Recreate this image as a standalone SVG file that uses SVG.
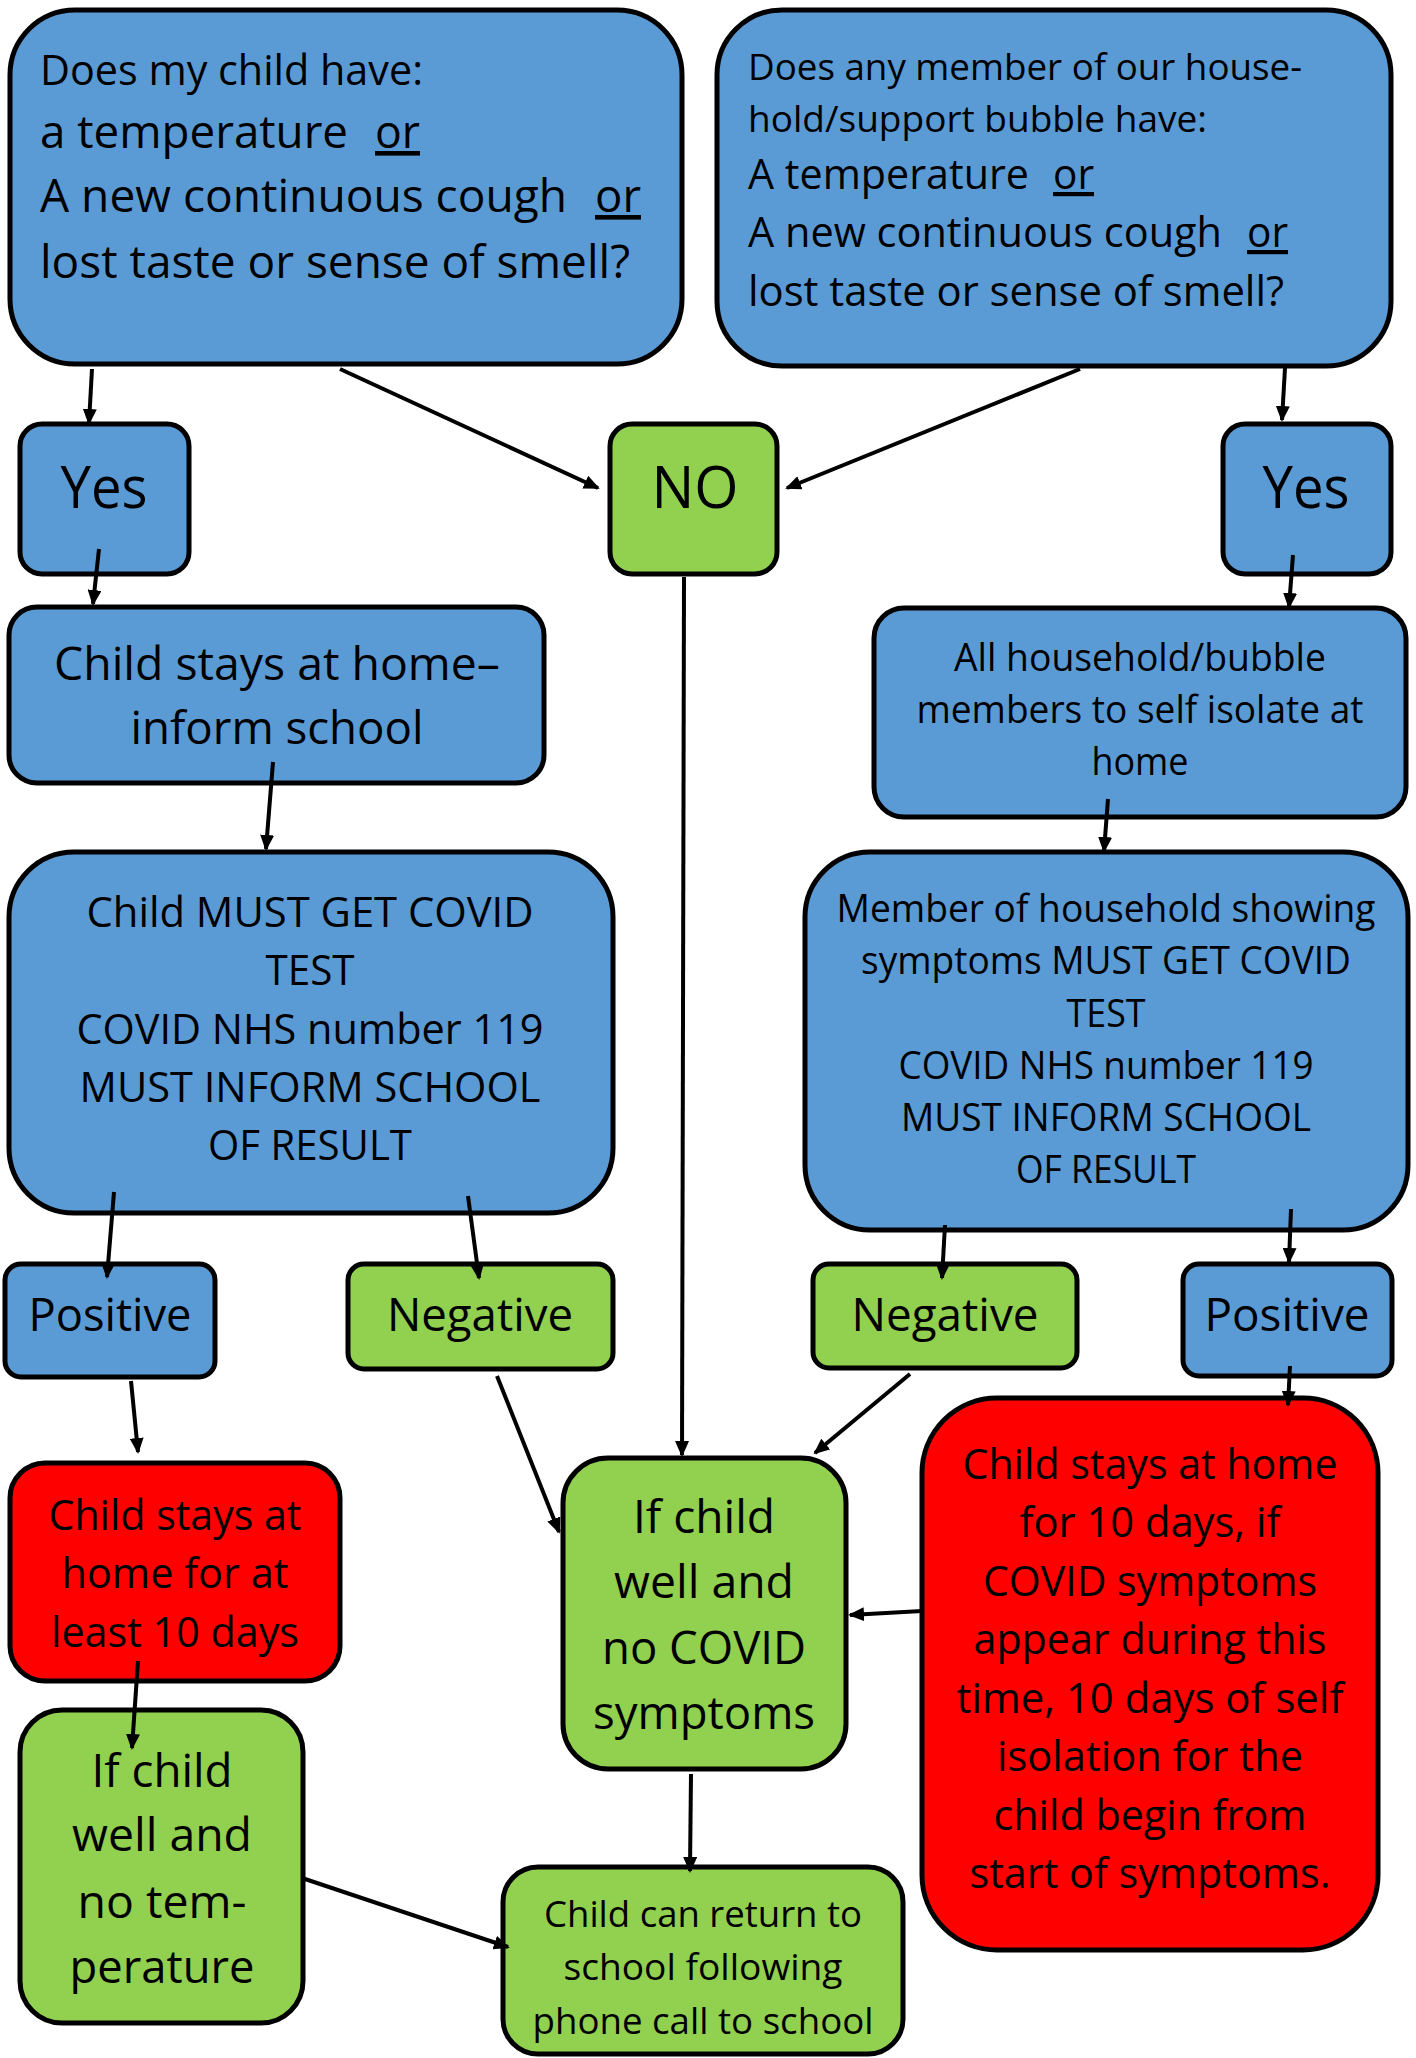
<svg xmlns="http://www.w3.org/2000/svg" width="1416" height="2058" viewBox="0 0 1416 2058">
<style>
.box{stroke:#000;stroke-width:5}
.blue{fill:#5B9BD5}
.green{fill:#92D050}
.red{fill:#FF0000}
text{font-family:"Open Sans","Liberation Sans",sans-serif;fill:#000}
.c{text-anchor:middle}
.u{text-decoration:underline}
.conn line{stroke:#000;stroke-width:4;marker-end:url(#arr)}
</style>
<defs>
<marker id="arr" markerUnits="userSpaceOnUse" markerWidth="16" markerHeight="14" refX="14" refY="7" orient="auto">
<path d="M0,0 L16,7 L0,14 z" fill="#000"/>
</marker>
</defs>
<rect width="1416" height="2058" fill="#fff"/>

<g id="q1">
<rect class="box blue" x="10" y="10" width="672" height="354" rx="65"/>
<text x="40" y="85" font-size="41.5" textLength="383" lengthAdjust="spacingAndGlyphs">Does my child have:</text>
<text x="40" y="148" font-size="46" textLength="308" lengthAdjust="spacingAndGlyphs">a temperature</text>
<text class="u" x="375" y="148" font-size="46" textLength="45" lengthAdjust="spacingAndGlyphs">or</text>
<text x="40" y="212" font-size="46" textLength="527" lengthAdjust="spacingAndGlyphs">A new continuous cough</text>
<text class="u" x="595" y="212" font-size="46" textLength="46" lengthAdjust="spacingAndGlyphs">or</text>
<text x="40" y="278" font-size="46" textLength="590" lengthAdjust="spacingAndGlyphs">lost taste or sense of smell?</text>
</g>

<g id="q2">
<rect class="box blue" x="717" y="10" width="674" height="356" rx="65"/>
<text x="748" y="80" font-size="37" textLength="554" lengthAdjust="spacingAndGlyphs">Does any member of our house-</text>
<text x="748" y="132" font-size="37" textLength="459" lengthAdjust="spacingAndGlyphs">hold/support bubble have:</text>
<text x="748" y="189" font-size="42" textLength="281" lengthAdjust="spacingAndGlyphs">A temperature</text>
<text class="u" x="1053" y="189" font-size="42" textLength="41" lengthAdjust="spacingAndGlyphs">or</text>
<text x="748" y="247" font-size="42" textLength="474" lengthAdjust="spacingAndGlyphs">A new continuous cough</text>
<text class="u" x="1247" y="247" font-size="42" textLength="41" lengthAdjust="spacingAndGlyphs">or</text>
<text x="748" y="306" font-size="42" textLength="536" lengthAdjust="spacingAndGlyphs">lost taste or sense of smell?</text>
</g>

<g id="yes1">
<rect class="box blue" x="20" y="424" width="169" height="150" rx="22"/>
<text class="c" x="104" y="508" font-size="58" textLength="87" lengthAdjust="spacingAndGlyphs">Yes</text>
</g>

<g id="no">
<rect class="box green" x="610" y="424" width="167" height="150" rx="22"/>
<text class="c" x="695" y="508" font-size="58" textLength="87" lengthAdjust="spacingAndGlyphs">NO</text>
</g>

<g id="yes2">
<rect class="box blue" x="1223" y="424" width="168" height="150" rx="22"/>
<text class="c" x="1306" y="508" font-size="58" textLength="87" lengthAdjust="spacingAndGlyphs">Yes</text>
</g>

<g id="stayHome">
<rect class="box blue" x="9" y="607" width="535" height="176" rx="28"/>
<text class="c" x="277" y="680" font-size="46" textLength="446" lengthAdjust="spacingAndGlyphs">Child stays at home–</text>
<text class="c" x="277" y="744" font-size="46" textLength="293" lengthAdjust="spacingAndGlyphs">inform school</text>
</g>

<g id="testChild">
<rect class="box blue" x="9" y="852" width="604" height="361" rx="65"/>
<text class="c" x="310" y="927" font-size="42" textLength="447" lengthAdjust="spacingAndGlyphs">Child MUST GET COVID</text>
<text class="c" x="310" y="985" font-size="42" textLength="89" lengthAdjust="spacingAndGlyphs">TEST</text>
<text class="c" x="310" y="1044" font-size="42" textLength="467" lengthAdjust="spacingAndGlyphs">COVID NHS number 119</text>
<text class="c" x="310" y="1102" font-size="42" textLength="461" lengthAdjust="spacingAndGlyphs">MUST INFORM SCHOOL</text>
<text class="c" x="310" y="1160" font-size="42" textLength="204" lengthAdjust="spacingAndGlyphs">OF RESULT</text>
</g>

<g id="isolate">
<rect class="box blue" x="874" y="608" width="532" height="209" rx="30"/>
<text class="c" x="1140" y="671" font-size="37.5" textLength="372" lengthAdjust="spacingAndGlyphs">All household/bubble</text>
<text class="c" x="1140" y="723" font-size="37.5" textLength="447" lengthAdjust="spacingAndGlyphs">members to self isolate at</text>
<text class="c" x="1140" y="775" font-size="37.5" textLength="97" lengthAdjust="spacingAndGlyphs">home</text>
</g>

<g id="testMember">
<rect class="box blue" x="805" y="852" width="603" height="378" rx="65"/>
<text class="c" x="1106" y="922" font-size="37.5" textLength="539" lengthAdjust="spacingAndGlyphs">Member of household showing</text>
<text class="c" x="1106" y="974" font-size="37.5" textLength="490" lengthAdjust="spacingAndGlyphs">symptoms MUST GET COVID</text>
<text class="c" x="1106" y="1027" font-size="37.5" textLength="79" lengthAdjust="spacingAndGlyphs">TEST</text>
<text class="c" x="1106" y="1079" font-size="37.5" textLength="415" lengthAdjust="spacingAndGlyphs">COVID NHS number 119</text>
<text class="c" x="1106" y="1131" font-size="37.5" textLength="410" lengthAdjust="spacingAndGlyphs">MUST INFORM SCHOOL</text>
<text class="c" x="1106" y="1183" font-size="37.5" textLength="180" lengthAdjust="spacingAndGlyphs">OF RESULT</text>
</g>

<g id="pos1">
<rect class="box blue" x="5" y="1264" width="210" height="113" rx="16"/>
<text class="c" x="110" y="1331" font-size="45" textLength="163" lengthAdjust="spacingAndGlyphs">Positive</text>
</g>

<g id="neg1">
<rect class="box green" x="348" y="1264" width="265" height="105" rx="16"/>
<text class="c" x="480" y="1331" font-size="45" textLength="186" lengthAdjust="spacingAndGlyphs">Negative</text>
</g>

<g id="neg2">
<rect class="box green" x="813" y="1264" width="264" height="104" rx="16"/>
<text class="c" x="945" y="1331" font-size="45" textLength="187" lengthAdjust="spacingAndGlyphs">Negative</text>
</g>

<g id="pos2">
<rect class="box blue" x="1183" y="1264" width="209" height="112" rx="16"/>
<text class="c" x="1287" y="1331" font-size="45" textLength="165" lengthAdjust="spacingAndGlyphs">Positive</text>
</g>

<g id="red1">
<rect class="box red" x="10" y="1463" width="330" height="218" rx="35"/>
<text class="c" x="175" y="1530" font-size="41.5" textLength="253" lengthAdjust="spacingAndGlyphs">Child stays at</text>
<text class="c" x="175" y="1588" font-size="41.5" textLength="227" lengthAdjust="spacingAndGlyphs">home for at</text>
<text class="c" x="175" y="1647" font-size="41.5" textLength="248" lengthAdjust="spacingAndGlyphs">least 10 days</text>
</g>

<g id="wellTemp">
<rect class="box green" x="20" y="1710" width="283" height="313" rx="42"/>
<text class="c" x="162" y="1787" font-size="46" textLength="141" lengthAdjust="spacingAndGlyphs">If child</text>
<text class="c" x="162" y="1851" font-size="46" textLength="180" lengthAdjust="spacingAndGlyphs">well and</text>
<text class="c" x="162" y="1918" font-size="46" textLength="169" lengthAdjust="spacingAndGlyphs">no tem-</text>
<text class="c" x="162" y="1983" font-size="46" textLength="185" lengthAdjust="spacingAndGlyphs">perature</text>
</g>

<g id="wellCovid">
<rect class="box green" x="563" y="1458" width="283" height="311" rx="45"/>
<text class="c" x="704" y="1533" font-size="46" textLength="142" lengthAdjust="spacingAndGlyphs">If child</text>
<text class="c" x="704" y="1598" font-size="46" textLength="180" lengthAdjust="spacingAndGlyphs">well and</text>
<text class="c" x="704" y="1664" font-size="46" textLength="204" lengthAdjust="spacingAndGlyphs">no COVID</text>
<text class="c" x="704" y="1729" font-size="46" textLength="222" lengthAdjust="spacingAndGlyphs">symptoms</text>
</g>

<g id="returnSchool">
<rect class="box green" x="503" y="1867" width="400" height="187" rx="35"/>
<text class="c" x="703" y="1927" font-size="37" textLength="318" lengthAdjust="spacingAndGlyphs">Child can return to</text>
<text class="c" x="703" y="1980" font-size="37" textLength="279" lengthAdjust="spacingAndGlyphs">school following</text>
<text class="c" x="703" y="2034" font-size="37" textLength="341" lengthAdjust="spacingAndGlyphs">phone call to school</text>
</g>

<g id="red2">
<rect class="box red" x="922" y="1398" width="456" height="552" rx="75"/>
<text class="c" x="1150" y="1479" font-size="41.5" textLength="375" lengthAdjust="spacingAndGlyphs">Child stays at home</text>
<text class="c" x="1150" y="1537" font-size="41.5" textLength="261" lengthAdjust="spacingAndGlyphs">for 10 days, if</text>
<text class="c" x="1150" y="1596" font-size="41.5" textLength="334" lengthAdjust="spacingAndGlyphs">COVID symptoms</text>
<text class="c" x="1150" y="1654" font-size="41.5" textLength="353" lengthAdjust="spacingAndGlyphs">appear during this</text>
<text class="c" x="1150" y="1713" font-size="41.5" textLength="387" lengthAdjust="spacingAndGlyphs">time, 10 days of self</text>
<text class="c" x="1150" y="1771" font-size="41.5" textLength="306" lengthAdjust="spacingAndGlyphs">isolation for the</text>
<text class="c" x="1150" y="1830" font-size="41.5" textLength="313" lengthAdjust="spacingAndGlyphs">child begin from</text>
<text class="c" x="1150" y="1888" font-size="41.5" textLength="361" lengthAdjust="spacingAndGlyphs">start of symptoms.</text>
</g>

<g id="connectors" class="conn">
<line x1="92" y1="369" x2="89" y2="423"/>
<line x1="340" y1="369" x2="598" y2="488"/>
<line x1="1080" y1="369" x2="787" y2="488"/>
<line x1="1285" y1="368" x2="1282" y2="420"/>
<line x1="99" y1="549" x2="93" y2="604"/>
<line x1="1293" y1="555" x2="1289" y2="607"/>
<line x1="273" y1="762" x2="266" y2="849"/>
<line x1="1108" y1="799" x2="1104" y2="851"/>
<line x1="684" y1="577" x2="682" y2="1455"/>
<line x1="114" y1="1192" x2="107" y2="1277"/>
<line x1="468" y1="1196" x2="479" y2="1278"/>
<line x1="945" y1="1225" x2="942" y2="1278"/>
<line x1="1291" y1="1209" x2="1289" y2="1262"/>
<line x1="131" y1="1381" x2="138" y2="1452"/>
<line x1="497" y1="1376" x2="559" y2="1532"/>
<line x1="910" y1="1374" x2="815" y2="1453"/>
<line x1="1290" y1="1366" x2="1288" y2="1405"/>
<line x1="922" y1="1611" x2="850" y2="1615"/>
<line x1="138" y1="1661" x2="132" y2="1748"/>
<line x1="691" y1="1774" x2="690" y2="1871"/>
<line x1="302" y1="1878" x2="508" y2="1947"/>
</g>
</svg>
